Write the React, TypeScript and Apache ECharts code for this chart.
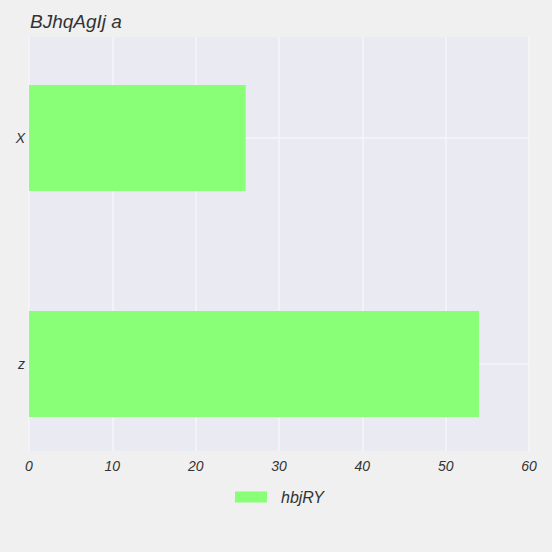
import React, { useEffect, useRef } from "react";
import * as echarts from "echarts";

const categories = ["X", "z"];
const values = [26, 54];
const seriesName = "hbjRY";
const titleText = "BJhqAgIj a";

export default function App() {
  const ref = useRef<HTMLDivElement>(null);
  useEffect(() => {
    const chart = echarts.init(ref.current!, null, { renderer: "svg" });
    const font = "'Liberation Sans', Arial, sans-serif";
    chart.setOption({
      animation: false,
      backgroundColor: "#f0f0f0",
      title: {
        text: titleText,
        left: 30,
        top: 12,
        padding: 0,
        textStyle: { fontSize: 19, fontStyle: "italic", fontWeight: "normal", color: "#333", fontFamily: font },
      },
      legend: {
        data: [{ name: seriesName, icon: "rect" }],
        top: 489,
        left: 235,
        itemWidth: 32,
        itemHeight: 11,
        padding: 0,
        textStyle: { fontSize: 16, fontStyle: "italic", color: "#333", fontFamily: font, padding: [0, 0, 0, 9] },
      },
      grid: [
        { left: 29, right: 23, top: 37, height: 414, show: true, backgroundColor: "#eaeaf2", borderWidth: 0, containLabel: false },
        { left: 29, right: 23, top: 25, height: 452, show: false, containLabel: false },
      ],
      xAxis: [
        {
          gridIndex: 0,
          type: "value",
          min: 0,
          max: 60,
          interval: 10,
          axisLine: { show: false },
          axisTick: { show: false },
          splitLine: { show: true, lineStyle: { color: "#f6f6f9", width: 1.5 } },
          axisLabel: { margin: 8, fontSize: 14, fontStyle: "italic", color: "#333", fontFamily: font },
        },
        {
          gridIndex: 1,
          type: "value",
          min: 0,
          max: 60,
          interval: 10,
          show: false,
          splitLine: { show: false },
        },
      ],
      yAxis: [
        { gridIndex: 0, type: "value", min: 0, max: 1, show: false, splitLine: { show: false } },
        {
          gridIndex: 1,
          type: "category",
          data: categories,
          inverse: true,
          axisLine: { show: false },
          axisTick: { show: false },
          splitLine: { show: false },
          axisLabel: { margin: 4, fontSize: 14, fontStyle: "italic", color: "#333", fontFamily: font },
        },
      ],
      series: [
        {
          name: "grid-lines",
          type: "line",
          xAxisIndex: 1,
          yAxisIndex: 1,
          data: [],
          z: 1,
          silent: true,
          markLine: {
            silent: true,
            z: 1,
            symbol: "none",
            label: { show: false },
            lineStyle: { color: "#f6f6f9", width: 1.5, type: "solid" },
            data: categories.map((c) => ({ yAxis: c })),
          },
        },
        {
          name: seriesName,
          type: "bar",
          xAxisIndex: 1,
          yAxisIndex: 1,
          data: values,
          barWidth: 106,
          z: 10,
          itemStyle: { color: "#88ff77" },
        },
      ],
    });
    return () => chart.dispose();
  }, []);
  return <div ref={ref} style={{ width: 552, height: 552, position: "absolute", left: 0, top: 0 }} />;
}
